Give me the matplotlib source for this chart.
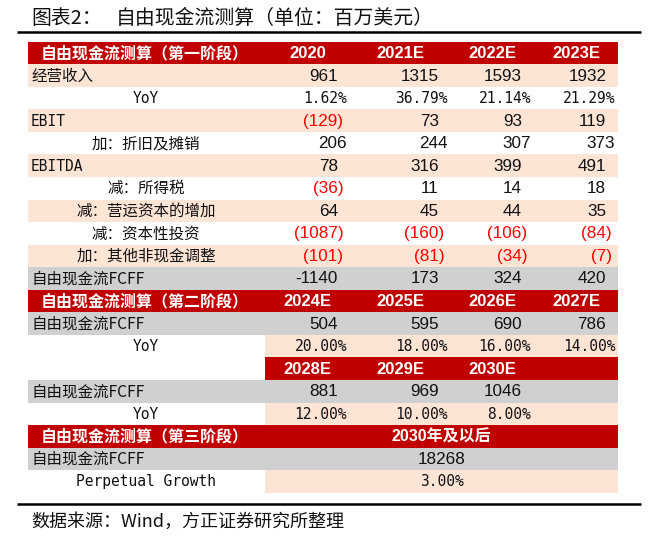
import matplotlib
matplotlib.use('Agg')
import matplotlib.pyplot as plt
from matplotlib import font_manager as fm
from matplotlib.patches import Rectangle

_names = {f.name for f in fm.fontManager.ttflist}
CJK = 'Noto Sans CJK SC'
NARROW = 'Liberation Sans Narrow' if 'Liberation Sans Narrow' in _names else 'Liberation Sans'
SANS = 'Liberation Sans'
MONO = 'DejaVu Sans Mono'
plt.rcParams['font.family'] = [CJK, 'DejaVu Sans']

# ---------------- data ----------------
title_prefix = '图表2：'
title_main = '自由现金流测算（单位：百万美元）'
source_note = '数据来源：Wind，方正证券研究所整理'

stage1_header = '自由现金流测算（第一阶段）'
stage1_years = ['2020', '2021E', '2022E', '2023E']
revenue = [961, 1315, 1593, 1932]
revenue_yoy = [1.62, 36.79, 21.14, 21.29]
ebit = [-129, 73, 93, 119]
dep_amort = [206, 244, 307, 373]
ebitda = [78, 316, 399, 491]
income_tax = [-36, 11, 14, 18]
working_cap = [64, 45, 44, 35]
capex = [-1087, -160, -106, -84]
other_noncash = [-101, -81, -34, -7]
fcff_stage1 = [-1140, 173, 324, 420]

stage2_header = '自由现金流测算（第二阶段）'
stage2_years_a = ['2024E', '2025E', '2026E', '2027E']
fcff_stage2_a = [504, 595, 690, 786]
yoy_stage2_a = [20.00, 18.00, 16.00, 14.00]
stage2_years_b = ['2028E', '2029E', '2030E']
fcff_stage2_b = [881, 969, 1046]
yoy_stage2_b = [12.00, 10.00, 8.00]

stage3_header = '自由现金流测算（第三阶段）'
stage3_period = '2030年及以后'
fcff_stage3 = [18268]
perpetual_growth = [3.00]

row_labels = ['经营收入', 'YoY', 'EBIT', '加：折旧及摊销', 'EBITDA', '减：所得税',
              '减：营运资本的增加', '减：资本性投资', '加：其他非现金调整', '自由现金流FCFF']
fcff_label = '自由现金流FCFF'
yoy_label = 'YoY'
growth_label = 'Perpetual Growth'

# ---------------- styling ----------------
RED = '#C00000'
PEACH = '#FDE5D6'
GRAY = '#D0D0D0'
WHITE = '#FFFFFF'
NEG = '#FF0000'
INK = '#111111'
MONO_SIZE = 10.5

W, H = 649, 539
fig = plt.figure(figsize=(W / 100, H / 100), dpi=100)
ax = fig.add_axes([0, 0, 1, 1])
ax.set_xlim(0, W)
ax.set_ylim(H, 0)
ax.axis('off')

X0, X1 = 27.7, 618.3
COLS = [265, 350, 451, 534, 618.3]
Y0, RH = 41.7, 22.55
LAB_CX = 146
LAB_LX = 31

def row_y(i):
    return Y0 + i * RH

def fill(i, x0, x1, color):
    ax.add_patch(Rectangle((x0, row_y(i)), x1 - x0, RH, facecolor=color,
                           edgecolor='none', zorder=1))

def label(i, text, align='center', mono=False):
    x = LAB_CX if align == 'center' else LAB_LX
    fam = [MONO] if mono else [CJK, 'DejaVu Sans']
    size = MONO_SIZE if mono else 11.2
    ax.text(x, row_y(i) + RH / 2 + 0.5, text, ha=align, va='center', fontsize=size,
            family=fam, color=INK, zorder=3)

def header_label(i, text):
    ax.text(LAB_CX - 1, row_y(i) + RH / 2 + 0.5, text, ha='center', va='center',
            fontsize=11.5, family=[CJK, 'DejaVu Sans'], color='white',
            fontweight='bold', zorder=3)

def years(i, ys, start=0):
    for k, y in enumerate(ys):
        c = start + k
        cx = (COLS[c] + COLS[c + 1]) / 2
        ax.text(cx, row_y(i) + RH / 2 + 0.5, y, ha='center', va='center',
                fontsize=12, family=[SANS], fontweight='bold', color='white', zorder=3)

def ints(i, vals, acct=False, pad=12):
    for c, v in enumerate(vals):
        right = COLS[c + 1]
        if acct and v < 0:
            s, col, p = f'({-v})', NEG, 6.5
        else:
            s, col, p = f'{v}', INK, pad
        ax.text(right - p, row_y(i) + RH / 2 + 0.5, s, ha='right', va='center',
                fontsize=12.3, family=[NARROW], color=col, zorder=3)

def pcts(i, vals):
    for c, v in enumerate(vals):
        right = COLS[c + 1]
        ax.text(right - 3, row_y(i) + RH / 2 + 0.5, f'{v:.2f}%', ha='right',
                va='center', fontsize=MONO_SIZE, family=[MONO], color=INK, zorder=3)

# ---- stage 1 ----
fill(0, X0, X1, RED)
header_label(0, stage1_header)
years(0, stage1_years)

stage1_rows = [
    (row_labels[0], 'left', False, PEACH, revenue, 'int'),
    (row_labels[1], 'center', True, WHITE, revenue_yoy, 'pct'),
    (row_labels[2], 'left', True, PEACH, ebit, 'acct'),
    (row_labels[3], 'center', False, WHITE, dep_amort, 'int3'),
    (row_labels[4], 'left', True, PEACH, ebitda, 'acct'),
    (row_labels[5], 'center', False, WHITE, income_tax, 'acct'),
    (row_labels[6], 'center', False, PEACH, working_cap, 'acct'),
    (row_labels[7], 'center', False, WHITE, capex, 'acct'),
    (row_labels[8], 'center', False, PEACH, other_noncash, 'acct'),
    (row_labels[9], 'left', False, GRAY, fcff_stage1, 'int'),
]
for r, (lab, al, mono, color, vals, kind) in enumerate(stage1_rows, start=1):
    fill(r, X0, X1, color)
    label(r, lab, align=al, mono=mono)
    if kind == 'pct':
        pcts(r, vals)
    elif kind == 'int3':
        ints(r, vals, pad=3)
    else:
        ints(r, vals, acct=(kind == 'acct'))

# ---- stage 2 ----
fill(11, X0, X1, RED)
header_label(11, stage2_header)
years(11, stage2_years_a)
fill(12, X0, X1, GRAY)
label(12, fcff_label, align='left')
ints(12, fcff_stage2_a)
fill(13, COLS[0], X1, PEACH)
label(13, yoy_label, mono=True)
pcts(13, yoy_stage2_a)
fill(14, COLS[0], X1, RED)
years(14, stage2_years_b)
fill(15, X0, X1, GRAY)
label(15, fcff_label, align='left')
ints(15, fcff_stage2_b)
fill(16, COLS[0], X1, PEACH)
label(16, yoy_label, mono=True)
pcts(16, yoy_stage2_b)

# ---- stage 3 ----
mid = (COLS[0] + COLS[-1]) / 2
fill(17, X0, X1, RED)
header_label(17, stage3_header)
ax.text(mid, row_y(17) + RH / 2 + 0.5, stage3_period, ha='center', va='center',
        fontsize=11.5, family=[SANS, CJK], fontweight='bold', color='white', zorder=3)
fill(18, X0, X1, GRAY)
label(18, fcff_label, align='left')
ax.text(mid, row_y(18) + RH / 2 + 0.5, f'{fcff_stage3[0]}', ha='center', va='center',
        fontsize=12.3, family=[NARROW], color=INK, zorder=3)
fill(19, COLS[0], X1, PEACH)
label(19, growth_label, mono=True)
ax.text(mid, row_y(19) + RH / 2 + 0.5, f'{perpetual_growth[0]:.2f}%', ha='center',
        va='center', fontsize=MONO_SIZE, family=[MONO], color=INK, zorder=3)

# ---- title, rules, source ----
ax.text(31.7, 18.5, title_prefix, ha='left', va='center', fontsize=14.3,
        family=[CJK, 'DejaVu Sans'], color=INK)
ax.text(115.7, 18.5, title_main, ha='left', va='center', fontsize=14.3,
        family=[CJK, 'DejaVu Sans'], color=INK)
ax.plot([17, 641], [32.3, 32.3], color='black', lw=1.8, solid_capstyle='butt')
ax.plot([17, 641], [503.5, 503.5], color='black', lw=1.8, solid_capstyle='butt')
ax.text(31.7, 522, source_note, ha='left', va='center', fontsize=13,
        family=[CJK, 'DejaVu Sans'], style='italic', color=INK)

fig.savefig('out.png', dpi=100)
